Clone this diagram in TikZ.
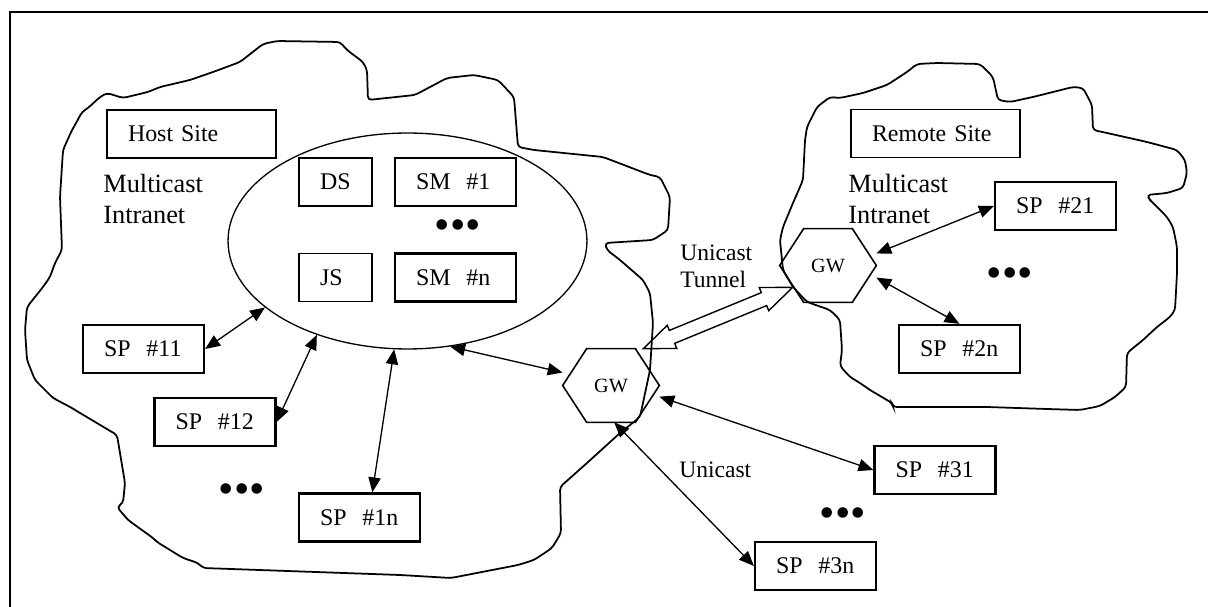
\documentclass[tikz,border=0pt]{standalone}
\usepackage{fontspec}
\setmainfont{Liberation Serif}
\usetikzlibrary{arrows.meta, shapes.geometric, calc}

\begin{document}
\begin{tikzpicture}[
    x=0.02cm, y=-0.02cm,
    every node/.style={font=\fontsize{13.6}{16}\selectfont},
    box/.style={draw, line width=1.3pt, inner xsep=0.42cm, inner ysep=0pt,
        minimum height=0.96cm, text width=#1, align=left},
    thinbox/.style={box=#1, line width=0.8pt},
    gwbox/.style={minimum width=1.92cm, minimum height=1.46cm, inner sep=0pt,
        font=\fontsize{11.5}{13}\selectfont},
    bigtext/.style={font=\fontsize{15}{17.4}\selectfont, align=left,
        inner sep=0pt, anchor=north west},
    smalltext/.style={font=\fontsize{13.4}{15.4}\selectfont, align=left,
        inner sep=0pt, anchor=north west},
    dots/.style={inner sep=0pt, font=\fontsize{25}{26}\selectfont},
    link/.style={{Triangle[length=8.5pt,width=7pt]}-{Triangle[length=8.5pt,width=7pt]},
        line width=0.75pt},
    cloudline/.style={line width=1pt, rounded corners=2pt},
]

\useasboundingbox (0,0) rectangle (1208,607);

% frame, cut at the right and at the bottom
\draw[line width=0.9pt] (10,607) -- (10,12) -- (1208,12);

% ---------------------------------------------------------------- host site
\draw[cloudline] (25,330) -- (27,307) -- (43,287) -- (50,277) -- (55,263)
    -- (62,250) -- (60,197) -- (63,150) -- (72,130) -- (75,125) -- (82,112)
    -- (88,108) -- (100,97) -- (107,93) -- (123,98) -- (148,92) -- (160,87)
    -- (190,80) -- (213,72) -- (240,62) -- (263,44) -- (277,41) -- (340,42)
    -- (347,50) -- (363,62) -- (367,70) -- (368,100) -- (415,95) -- (447,78)
    -- (474,75) -- (498,80) -- (514,97) -- (518,147) -- (534,150) -- (603,157)
    -- (650,175) -- (660,177) -- (670,197) -- (668,230) -- (653,240) -- (605,243)
    -- (607,250) -- (620,260) -- (643,280) -- (650,293) -- (653,323) -- (650,370)
    -- (640,417) -- (620,433) -- (587,463) -- (560,487) -- (561,533) -- (552,548)
    -- (534,560) -- (518,565) -- (451,578) -- (400,575) -- (203,568) -- (198,563)
    -- (183,558) -- (157,542) -- (153,538) -- (128,520) -- (117,507) -- (123,503)
    -- (125,483) -- (117,435) -- (75,410) -- (72,408) -- (53,398) -- (35,380)
    -- (27,360) -- cycle;

\node[thinbox=2.54cm] (host) at (191.5,134) {Host Site};
\node[bigtext] (mcast1) at (103,174) {Multicast\\Intranet};

\node[draw, ellipse, line width=0.75pt, minimum width=7.18cm,
    minimum height=4.32cm, inner sep=0pt] (hub) at (407.5,241) {};
\node[thinbox=0.62cm] (ds) at (335.5,182) {DS};
\node[box=1.58cm] (sm1) at (455.5,182) {SM~~\#1};
\node[dots] (dots1) at (458,230) {\textbullet\textbullet\textbullet};
\node[thinbox=0.62cm] (js) at (335.5,277.5) {JS};
\node[box=1.58cm] (smn) at (455.5,277.5) {SM~~\#n};

\node[box=1.58cm] (sp11) at (143.5,349) {SP~~\#11};
\node[box=1.58cm] (sp12) at (215,422) {SP~~\#12};
\node[dots] (dots2) at (242,494) {\textbullet\textbullet\textbullet};
\node[box=1.58cm] (sp1n) at (359.5,517.5) {SP~~\#1n};

% ---------------------------------------------------------------- remote site
\draw[cloudline] (783,227) -- (793,203) -- (803,180) -- (805,140) -- (807,127)
    -- (817,107) -- (830,97) -- (840,98) -- (863,93) -- (887,85) -- (907,72)
    -- (917,64) -- (937,63) -- (980,64) -- (993,77) -- (998,100) -- (1010,102)
    -- (1033,97) -- (1073,87) -- (1083,88) -- (1092,105) -- (1093,130)
    -- (1107,133) -- (1147,142) -- (1177,150) -- (1185,160) -- (1187,173)
    -- (1183,188) -- (1167,193) -- (1147,195) -- (1150,200) -- (1167,217)
    -- (1173,227) -- (1177,247) -- (1177,273) -- (1175,310) -- (1170,317)
    -- (1157,327) -- (1143,340) -- (1127,353) -- (1126,387) -- (1115,397)
    -- (1100,406) -- (1080,410) -- (1047,409) -- (987,407) -- (893,407)
    -- (892,403) -- (870,390) -- (860,383) -- (850,377) -- (840,366) -- (842,350)
    -- (840,320) -- (830,310) -- (807,302) -- (793,287) -- (783,270) -- (780,240)
    -- cycle;

\node[thinbox=2.54cm] (remote) at (935.5,133.5) {Remote Site};
\node[bigtext] (mcast2) at (848,174) {Multicast\\Intranet};
\node[box=1.58cm] (sp21) at (1055.5,206) {SP~~\#21};
\node[dots] (dots3) at (1010,278) {\textbullet\textbullet\textbullet};
\node[box=1.58cm] (sp2n) at (959.5,349) {SP~~\#2n};

% ---------------------------------------------------------------- gateways
\node[gwbox] (gw1) at (611,385.5) {GW};
\node[gwbox] (gw2) at (828,265.5) {GW};
\foreach \g in {gw1,gw2}
  \draw[line width=0.9pt] (\g.west) -- ([xshift=0.48cm]\g.north west)
      -- ([xshift=-0.48cm]\g.north east) -- (\g.east)
      -- ([xshift=-0.48cm]\g.south east) -- ([xshift=0.48cm]\g.south west) -- cycle;

\node[smalltext] (tunlbl) at (680,245) {Unicast\\Tunnel};
\node[smalltext] (unilbl) at (679,462) {Unicast};

\node[box=1.58cm] (sp31) at (935,470) {SP~~\#31};
\node[dots] (dots4) at (843,518) {\textbullet\textbullet\textbullet};
\node[box=1.58cm] (sp3n) at (815.5,566) {SP~~\#3n};

% ---------------------------------------------------------------- links
\draw[link] (hub.205) -- (sp11.east);
\draw[link] (hub.226) -- (sp12.east);
\draw[link] (hub.263) -- (sp1n.63);
\draw[link] (hub.292) -- (gw1.165);
\draw[link] (gw2.14) -- (sp21.west);
\draw[link] (gw2.-14) -- (sp2n.north);
\draw[link] (gw1.-13) -- (sp31.west);
\draw[link] (gw1.-85) -- (sp3n.west);

% hollow double arrow for the tunnel
\coordinate (tunA) at ([xshift=-0.32cm]gw1.north east);
\coordinate (tunB) at ([shift={(0.26cm,0.3cm)}]gw2.south west);
\coordinate (hA) at ($(tunA)!0.62cm!(tunB)$);
\coordinate (hB) at ($(tunB)!0.62cm!(tunA)$);
\draw[line width=0.8pt] (tunA) -- ($(hA)!0.25cm!90:(tunB)$)
    -- ($(hA)!0.14cm!90:(tunB)$) -- ($(hB)!0.14cm!-90:(tunA)$)
    -- ($(hB)!0.25cm!-90:(tunA)$) -- (tunB)
    -- ($(hB)!0.25cm!90:(tunA)$) -- ($(hB)!0.14cm!90:(tunA)$)
    -- ($(hA)!0.14cm!-90:(tunB)$) -- ($(hA)!0.25cm!-90:(tunB)$) -- cycle;

\end{tikzpicture}
\end{document}
